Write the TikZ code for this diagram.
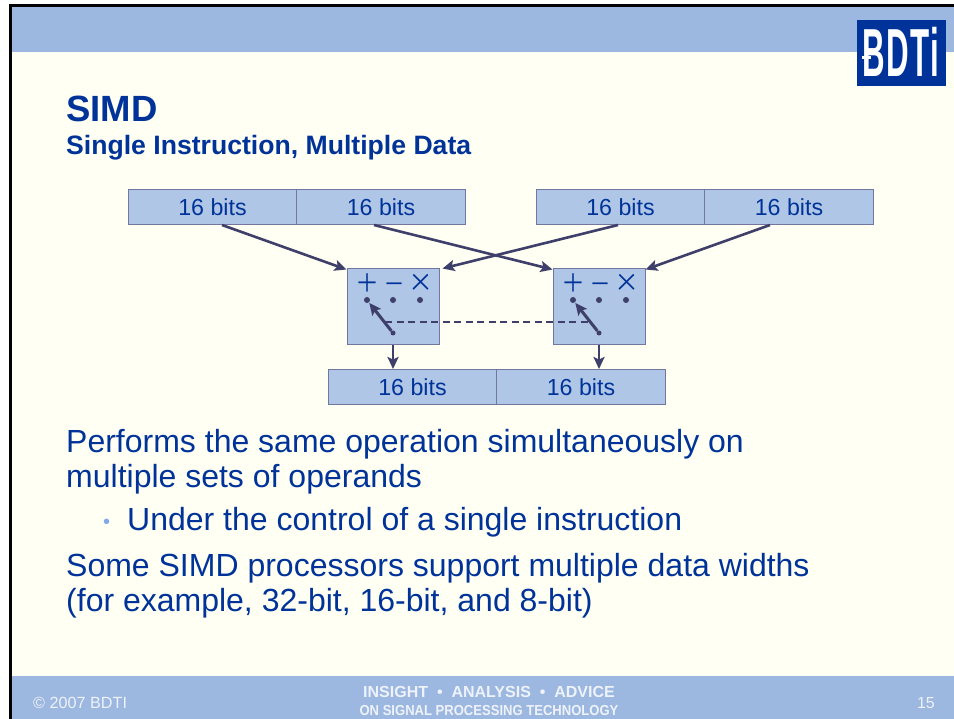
\documentclass[tikz,border=0pt]{standalone}
\usepackage{fontspec}
\setmainfont{Liberation Sans}
\newfontfamily\lightsym[UprightFont={* Light},UprightFeatures={FakeBold=0.6}]{Lato}
\usetikzlibrary{arrows.meta}
\definecolor{band}{HTML}{9CB7E0}
\definecolor{cream}{HTML}{FFFFF3}
\definecolor{boxfill}{HTML}{AFC6E6}
\definecolor{ink}{HTML}{003399}
\definecolor{wire}{HTML}{3F3F6B}
\definecolor{edge}{HTML}{72779F}
\definecolor{foot}{HTML}{EEF2FA}
\definecolor{bulletblue}{HTML}{80A8F0}
\tikzset{
  x=1pt,y=-1pt,
  bitbox/.style={draw=edge,line width=1pt,fill=boxfill,minimum width=168.5pt,minimum height=35pt,inner sep=0pt,text=ink,font=\fontsize{23.2}{23.2}\selectfont},
  opbox/.style={draw=edge,line width=1pt,fill=boxfill,minimum width=92pt,minimum height=76pt,inner sep=0pt},
  wirearrow/.style={draw=wire,line width=2.6pt,-{Stealth[length=12pt,width=11pt,inset=2.5pt]}},
  sel/.style={circle,fill=wire,inner sep=0pt,minimum size=6pt},
  sym/.style={text=ink,inner sep=0pt,font=\lightsym\fontsize{36}{36}\selectfont},
  txt/.style={anchor=base west,inner sep=0pt,text=ink,font=\fontsize{32}{32}\selectfont},
  foottext/.style={anchor=base,inner sep=0pt,text=foot}
}
\begin{document}
\begin{tikzpicture}
\useasboundingbox (0,0) rectangle (954,719);
\fill[white] (0,0) rectangle (954,719);
\fill[cream] (11,6) rectangle (954,719);
\fill[band] (11,6) rectangle (954,52);
\fill[band] (11,676) rectangle (954,719);
\draw[black,line width=3pt] (10.5,719) -- (10.5,5.5) -- (954,5.5);
% logo
\fill[ink] (857,20) rectangle (946,86);
\node (logo) at (901,52) [text=white,inner sep=0pt,font=\bfseries\fontsize{68}{68}\selectfont,xscale=.46] {B\kern3pt D\kern3pt T\kern2pt i};
\fill[white] (862,56.5) rectangle (871,59);
% titles
\node (title) [txt,font=\bfseries\fontsize{36.5}{36.5}\selectfont] at (66,121.5) {SIMD};
\node (subtitle) [txt,font=\bfseries\fontsize{26.6}{26.6}\selectfont] at (66,155) {Single Instruction, Multiple Data};
% registers
\node (a1) [bitbox] at (212.5,207) {16 bits};
\node (a2) [bitbox] at (381,207) {16 bits};
\node (b1) [bitbox] at (620.5,207) {16 bits};
\node (b2) [bitbox] at (789,207) {16 bits};
\node (r1) [bitbox] at (412.5,387) {16 bits};
\node (r2) [bitbox] at (581,387) {16 bits};
% operator boxes
\node (op1) [opbox] at (393,307) {};
\node (op2) [opbox] at (599,307) {};
\foreach \o/\x in {1/367,2/573}{
  \node (plus\o) [sym] at (\x,284) {+};
  \node (minus\o) [sym] at (\x+27,289) {−};
  \node (times\o) [sym] at (\x+53.5,284) {×};
  \node (da\o) [sel] at (\x,300) {};
  \node (db\o) [sel] at (\x+26,300) {};
  \node (dc\o) [sel] at (\x+53,300) {};
  \node (pivot\o) [sel,minimum size=5pt] at (\x+26,333) {};
  \draw[wirearrow,line width=3pt,shorten >=0.5pt] (pivot\o) -- (da\o);
}
\coordinate (dl) at (385,322);
\coordinate (dr) at (590,322);
\draw[wire,line width=1.5pt,dash pattern=on 7pt off 4.5pt] (dl) -- (dr);
% connectors
\draw[wirearrow] ([xshift=9.5pt]a1.south) -- ([yshift=-1pt]op1.north west);
\draw[wirearrow] ([xshift=-7pt]a2.south) -- ([yshift=-1pt]op2.north west);
\draw[wirearrow] ([xshift=-2.5pt]b1.south) -- ([xshift=3pt]op1.north east);
\draw[wirearrow] ([xshift=-19pt]b2.south) -- ([yshift=-1pt]op2.north east);
\draw[wirearrow] (op1.south) -- ([xshift=-19.5pt]r1.north);
\draw[wirearrow] (op2.south) -- ([xshift=18pt]r2.north);
% body
\node (l1) [txt] at (66,453) {Performs the same operation simultaneously on};
\node (l2) [txt] at (66,487) {multiple sets of operands};
\node (bul) [anchor=base,inner sep=0pt,text=bulletblue,font=\fontsize{20}{20}\selectfont] at (106.7,528) {•};
\node (l3) [txt] at (127,530) {Under the control of a single instruction};
\node (l4) [txt] at (66,576) {Some SIMD processors support multiple data widths};
\node (l5) [txt] at (66,611) {(for example, 32-bit, 16-bit, and 8-bit)};
% footer
\node (copy) [foottext,anchor=base west,font=\fontsize{16.2}{16.2}\selectfont] at (33,708) {© 2007 BDTI};
\node (f1) [foottext,font=\bfseries\fontsize{16}{16}\selectfont] at (489,697) {INSIGHT\ \ •\ \ ANALYSIS\ \ •\ \ ADVICE};
\node (f2) [foottext,font=\bfseries\fontsize{14.5}{14.5}\selectfont,xscale=.9] at (489,715) {ON SIGNAL PROCESSING TECHNOLOGY};
\node (num) [foottext,anchor=base east,font=\fontsize{16}{16}\selectfont] at (935,708) {15};
\end{tikzpicture}
\end{document}
